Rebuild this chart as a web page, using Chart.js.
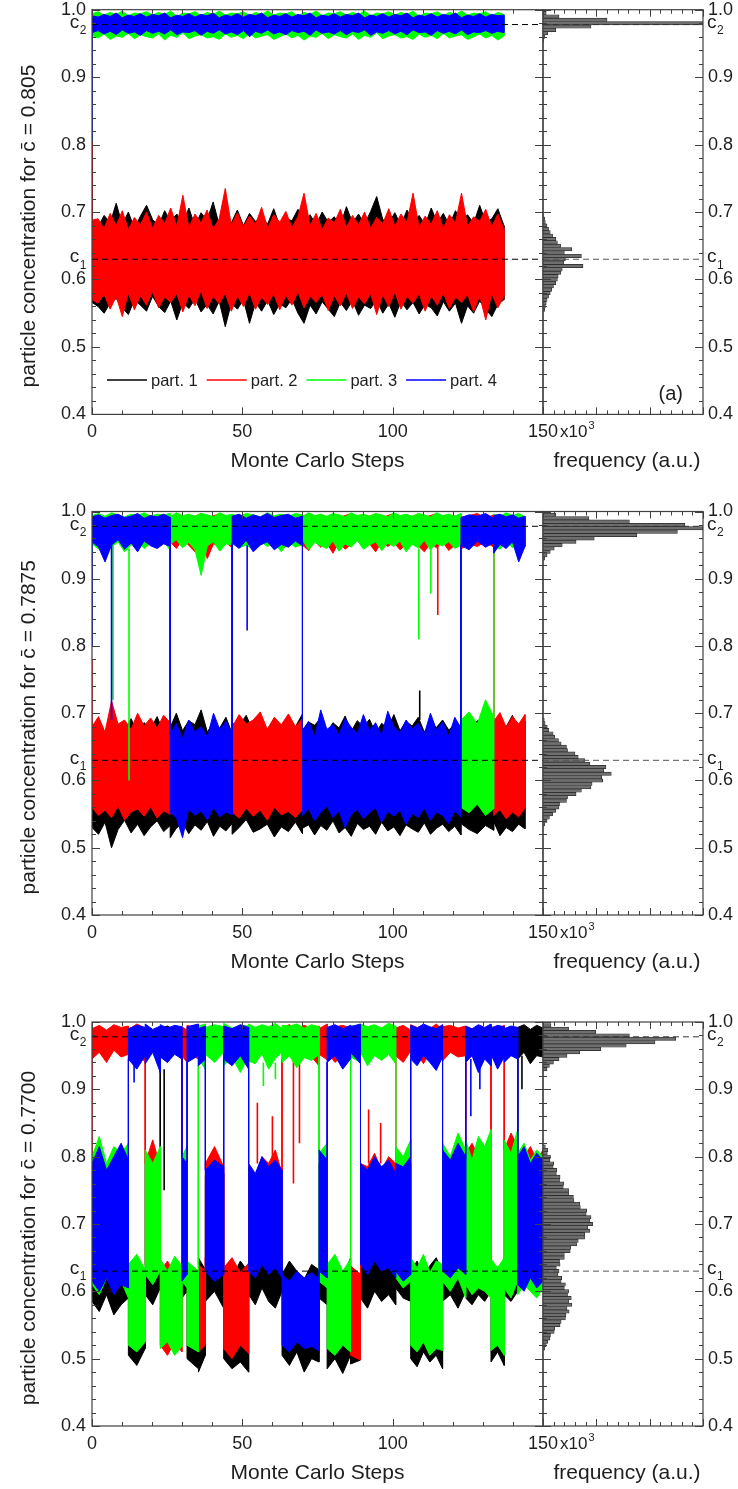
<!DOCTYPE html>
<html><head><meta charset="utf-8">
<script src="https://cdn.jsdelivr.net/npm/chart.js@4.4.1/dist/chart.umd.min.js"></script>
<style>
html,body{margin:0;padding:0;background:#fff;}
#wrap{position:relative;width:738px;height:1489px;overflow:hidden;background:#fff;}
canvas{position:absolute;left:0;}
</style></head><body><div id="wrap"></div>
<script>
// ---------------- data ----------------
const xTicks = [0, 50, 100, 150];
const yTicks = [0.4, 0.5, 0.6, 0.7, 0.8, 0.9, 1.0];
const c1 = 0.63, c2 = 0.978;
const names = ['part. 1', 'part. 2', 'part. 3', 'part. 4'];
const colors = ['#000000', '#ff0000', '#00ff00', '#0000ff'];
const meanConc = ['0.805', '0.7875', '0.7700'];
const panelLabels = ['(a)', '(b)', '(c)'];
const histStep = 0.005;    // histogram bin width

// Time windows (MC steps x10^3) and number of envelope samples read in each window.
// Envelope samples (upper / lower) are in units of 1/1000 concentration.
// panel (a)
const aBounds = [0, 137];
const aCounts = [69];
const aHi1 = [682,678,695,684,713,681,700,676,694,710,689,680,702,686,697,683,706,679,699,688,715,681,692,684,703,680,698,686,693,682,705,679,691,687,704,683,696,681,700,685,693,680,708,684,697,682,701,723,689,684,699,680,703,686,695,681,706,684,698,680,702,687,696,683,710,685,690,705,680];
const aLo1 = [566,560,550,565,572,558,548,570,562,553,575,560,551,568,540,566,557,571,552,563,549,568,530,565,556,570,535,566,553,569,548,564,558,571,550,535,562,549,567,556,545,566,554,569,547,562,557,570,550,564,544,568,555,566,549,563,558,546,567,553,565,535,561,550,568,556,545,563,570];
const aHi2 = [688,690,676,698,680,702,674,692,681,700,676,695,683,706,679,725,677,697,684,703,675,690,735,680,699,678,694,682,707,676,696,685,701,677,693,728,680,698,674,691,684,704,678,695,681,700,676,692,683,705,679,697,685,728,677,694,682,702,676,696,684,728,679,693,686,704,678,697,675];
const aLo2 = [570,565,578,556,575,545,580,555,576,562,582,558,574,566,579,552,577,561,583,557,575,564,580,553,576,560,581,556,574,563,579,555,577,562,582,558,575,566,578,554,576,561,580,557,574,564,579,548,577,560,581,556,575,565,579,553,576,562,580,557,574,566,578,552,576,540,579,558,575];
const aHi3 = [994,997,992,996,993,998,991,995,994,997,992,996,993,998,990,995,994,997,991,996,993,998,992,995,994,997,991,996,993,998,992,995,994,997,990,996,993,998,991,995,994,997,992,996,993,998,991,995,994,997,992,996,993,998,990,995,994,997,991,996,993,998,992,995,994,997,991,996,993];
const aLo3 = [962,958,964,956,961,959,965,957,963,960,958,964,955,962,959,966,957,961,963,958,960,956,964,959,962,957,965,958,961,963,956,960,964,958,962,955,961,959,965,957,963,960,958,964,956,962,959,966,957,961,963,958,960,956,964,959,962,957,965,958,961,963,956,960,964,958,962,955,961];
const aHi4 = [991,989,993,990,995,988,992,990,994,989,993,991,995,988,992,990,994,989,993,991,995,988,992,990,994,989,993,991,995,988,992,990,994,989,993,991,995,988,992,990,994,989,993,991,995,988,992,990,994,989,993,991,995,988,992,990,994,989,993,991,995,988,992,990,994,989,993,991,992];
const aLo4 = [966,969,964,968,963,970,965,967,962,969,965,968,964,970,963,967,966,969,962,968,965,970,964,967,963,969,960,968,965,970,964,967,963,969,966,968,962,970,965,967,964,969,963,968,966,970,962,967,965,969,964,968,963,970,966,967,962,969,965,968,964,970,963,967,966,969,965,968,966];
// vertical excursions [MC step, from, to]
const aSpk1 = [[0,805,682]];
const aSpk2 = [[0,805,570]];
const aSpk3 = [[0,805,962]];
const aSpk4 = [[0,805,966]];

// panel (b)
const bBounds = [0, 26, 46.6, 70, 122.7, 133.6, 144];
const bCounts = [13, 11, 11, 27, 5, 6];
const bHi1 = [676,690,668,698,680,673,692,670,686,677,695,671,684,679,700,674,689,683,705,672,687,678,694,670,685,681,697,673,688,676,692,669,684,680,699,675,687,682,693,671,686,678,696,673,689,680,691,670,685,677,698,674,688,681,694,672,686,679,690,675,684,680,695,673,689,677,692,671,686,680,697,674,688];
const bLo1 = [530,520,538,500,527,541,522,535,518,531,540,524,533,515,529,537,521,534,526,539,517,532,525,536,520,530,542,523,528,535,516,531,524,538,521,529,534,519,533,526,540,522,530,517,536,527,532,520,538,525,531,518,534,528,523,537,520,529,535,524,532,519,536,527,521,533,526,539,518,530,524,535,528];
const bHi2 = [680,695,672,718,684,690,676,700,681,693,678,697,686, 992,996,990,995,993,997,991,994,996,990,995, 679,698,684,690,702,676,694,683,699,680,692, 993,997,990,995,992,996,991,994,997,990,995,993,996,991,994,997,990,995,992,996,991,994,997,990,995,993,996, 991,994,997,990,995, 688,701,679,695,684,698];
const bLo2 = [560,548,556,545,562,541,553,558,547,561,544,555,550, 955,945,958,950,940,956,930,952,948,954,946, 553,544,559,547,556,541,560,549,554,545,557, 950,942,956,947,953,938,955,944,951,957,946,952,940,955,948,954,943,951,956,949,940,953,946,955,942,950,957, 944,952,948,955,947, 548,557,543,553,546,559];
const bHi3 = [994,997,993,998,995,992,996,994,998,993,996,995,997, 992,998,994,996,993,997,995,992,998,994,996, 996,993,997,995,992,998,994,996,993,997,995, 992,998,994,996,993,997,995,992,998,994,996,993,997,995,992,998,994,996,993,997,995,992,998,994,996,993,997, 690,702,684,720,695, 996,993,998,994,997,992];
const bLo3 = [952,944,958,947,955,940,950,957,945,953,948,956,942, 951,958,946,954,943,905,949,955,941,952,950, 957,946,950,944,956,948,953,940,955,947,951, 958,943,954,949,945,956,941,952,947,957,944,950,955,942,953,948,956,940,951,946,957,943,952,949,955,945,950, 560,552,565,548,558, 950,944,956,946,953,948];
const bHi4 = [992,995,990,994,996,991,993,997,990,994,992,996,991, 668,685,662,690,672,680,665,700,676,688,670, 993,996,990,995,992,997,991,994,996,990,993, 672,688,665,705,676,683,668,692,679,670,698,674,686,667,703,680,671,690,677,685,669,700,675,687,666,694,678, 991,995,993,997,990, 994,996,992,995,990,993];
const bLo4 = [955,947,925,950,958,944,953,940,956,949,945,952,948, 552,545,515,558,548,555,541,560,546,553,549, 953,945,957,940,950,955,943,951,947,956,949, 548,558,540,553,562,545,555,530,550,557,543,552,560,538,554,547,556,535,551,545,559,541,553,548,536,555,546, 950,943,956,947,953, 938,951,945,955,925,948];
const bSpk1 = [[109,690,734]];
const bSpk2 = [[0,780,680],[115,950,846]];
const bSpk3 = [[0,800,952],[7,950,720],[12.3,945,600],[108.7,945,810],[112.7,945,878]];
const bSpk4 = [[0,800,955],[6.5,950,690],[51.6,950,823]];

// panel (c)
const cBounds = [0,12.1,17.7,22.7,29.9,31.6,35.4,37.7,43.8,52.1,63.2,75.5,78.2,86,89.3,101,106,116.6,124.3,132.7,137.1,141.6,150];
const cCounts = [6,3,3,4,2,2,2,3,4,6,6,2,4,2,6,3,6,4,5,3,3,5];
const cHi1 = [780,800,770,790,795,775, 630,648,622, 790,775,800, 990,994,988,992, 785,780, 640,625, 650,632, 770,785,775, 635,620,645,628, 780,765,790,775,785,770, 625,645,630,618,640,632, 790,785, 628,642,620,650, 633,625, 780,770,790,775,785,765, 780,775,790, 630,645,622,638,650,627, 795,785,805,790, 805,785,815,800,820, 640,628,645, 810,795,815, 992,996,989,995,991];
const cLo1 = [585,570,595,565,580,590, 505,490,515, 595,580,605, 950,940,955,945, 590,600, 500,485, 480,505, 585,600,575, 500,485,495,480, 595,580,605,585,575,600, 505,490,510,480,500,495, 590,580, 485,500,478,505, 492,498, 590,575,600,585,595,580, 605,590,585, 500,488,510,495,505,485, 585,595,575,600, 590,580,595,585,600, 495,510,490, 595,585,600, 945,955,938,950,948];
const cHi2 = [990,995,988,996,992,994, 989,997,991, 790,825,785, 630,645,625,640, 993,988, 995,990, 640,630, 790,815,785, 635,650,628,642, 785,770,800,790,810,775, 992,996,989,995,991,994, 990,997, 988,993,995,991, 638,625, 790,785,805,780,800,790, 991,995,988, 996,992,994,990,997,989, 993,995,991,994, 805,820,800,815,810, 993,990,995, 810,835,815, 805,800,815,795,810];
const cLo2 = [945,955,940,958,948,952, 944,956,940, 640,615,650, 520,505,525,510, 950,940, 955,945, 510,520, 650,625,640, 515,500,520,508, 660,640,670,650,655,645, 945,955,940,958,948,935, 952,944, 956,940,950,946, 505,498, 655,640,665,650,660,645, 950,940,957, 945,953,938,955,946,950, 942,955,948,950, 640,625,650,635,645, 952,945,950, 640,655,630, 650,645,660,640,655];
const cHi3 = [800,830,790,815,805,820, 640,655,632, 810,790,815, 648,630,652,638, 800,815, 645,630, 994,997, 992,996,993, 998,991,995,994, 997,992,996,993,998,990, 995,994,997,991,996,993, 805,820, 640,655,630,648, 995,992, 997,993,996,991,998,994, 815,800,825, 650,635,655,628,645,640, 820,800,835,810, 825,795,830,815,840, 648,635,650, 825,805,840, 805,820,795,810,800];
const cLo3 = [610,595,620,600,615,590, 520,510,525, 625,610,630, 515,525,505,518, 615,605, 520,510, 945,930, 952,940,955, 935,948,925,950, 942,938,953,930,946,955, 940,950,932,947,943,952, 615,605, 515,505,520,510, 948,940, 955,935,950,943,952,938, 620,605,615, 520,510,525,505,515,512, 615,600,620,590, 610,595,605,600,590, 512,520,505, 605,590,615, 595,610,600,590,605];
const cHi4 = [790,815,780,800,820,795, 990,995,992, 997,989,994, 996,991,995,993, 800,790, 993,997, 990,994, 780,795,785, 994,990,996,992, 790,775,800,785,795,780, 625,615,630,620,628,618, 810,795, 992,996,990,995, 993,997, 790,780,800,785,795,775, 790,785,800, 995,991,997,993,990,996, 810,795,820,800, 994,990,996,992,997, 991,995,993, 990,994,992, 800,815,790,805,795];
const cLo4 = [615,600,620,595,610,605, 945,930,950, 938,955,925, 948,940,952,945, 615,625, 940,950, 935,945, 630,615,625, 945,935,950,930, 630,620,640,625,635,620, 520,510,525,515,518,512, 630,620, 940,950,930,945, 955,938, 640,625,645,630,635,620, 630,615,625, 945,935,950,940,928,948, 630,620,635,625, 940,950,925,945,935, 952,930,948, 940,950,945, 610,600,620,605,615];
const cSpk1 = [[24,930,750],[143,950,900]];
const cSpk2 = [[0,800,945],[55,790,880],[60,790,860],[67,950,760],[69,950,820],[92,790,870],[96,790,850]];
const cSpk3 = [[57,940,905],[61,940,915]];
const cSpk4 = [[14,945,910],[126,945,860],[129,945,900]];

// histograms (frequency, arbitrary units 0-150) starting at the given concentration
const aHistLoStart = 0.555;
const aHistLo = [1.5,2.2,3,3.8,5.2,6.8,8.2,9.8,12,13.5,14.2,16.5,18,37.5,19.5,21,36,20,27,16.5,13.5,12,9,6.8,5.2,3.8,2.2,1.5,0.8];
const aHistHiStart = 0.955;
const aHistHi = [0.8,1.5,4.5,12,45,150,60,15,3];
const bHistLoStart = 0.535;
const bHistLo = [1.5,3.8,6,9,12,15,15.5,22,23,31,36,45,46,56,55,64,57,59,44,39,33,30,23,22,17,14.5,11,9.5,5.5,4,2,1.2];
const bHistHiStart = 0.93;
const bHistHi = [1.5,3.8,6.8,10.5,18,31,48,88,126,150,133,81,43,12];
const cHistLoStart = 0.515;
const cHistLo = [1.5,3,4.5,6.5,7,10.5,11,16,17,21,21.5,24.5,22.5,27,24,26.5,23,24,20,21,17,17.5,14,15,12.5,16,15.5,20,20,25.5,26,31.5,33,39,39,44,42,46.5,44,45,40.5,41,35,34.5,29,28.5,24,24,19,19.5,15.5,16,12.5,13,9.5,10,6.5,7,4,4.5,2.2];
const cHistHiStart = 0.93;
const cHistHi = [3.8,6,9.8,15,22.5,34.5,54,78,105,124.5,81,49.5,24,7.5];

// ---------------- layout ----------------
const FONT = '"Liberation Sans", Arial, Helvetica, sans-serif';
const plotLeft = 92, plotRight = 543, histRight = 703;
const geo = [
  {top: 9.7, bottom: 414.4, legendX: 107, legendY: 383, labelY: 397},
  {top: 511.5, bottom: 915, legendX: 114, legendY: 890, labelY: 888},
  {top: 1022, bottom: 1426, legendX: 114, legendY: 1398, labelY: 1395}
];
const panelData = [
  {bounds: aBounds, counts: aCounts, hi: [aHi1, aHi2, aHi3, aHi4], lo: [aLo1, aLo2, aLo3, aLo4], spk: [aSpk1, aSpk2, aSpk3, aSpk4],
   hist: [[aHistLoStart, aHistLo], [aHistHiStart, aHistHi]]},
  {bounds: bBounds, counts: bCounts, hi: [bHi1, bHi2, bHi3, bHi4], lo: [bLo1, bLo2, bLo3, bLo4], spk: [bSpk1, bSpk2, bSpk3, bSpk4],
   hist: [[bHistLoStart, bHistLo], [bHistHiStart, bHistHi]]},
  {bounds: cBounds, counts: cCounts, hi: [cHi1, cHi2, cHi3, cHi4], lo: [cLo1, cLo2, cLo3, cLo4], spk: [cSpk1, cSpk2, cSpk3, cSpk4],
   hist: [[cHistLoStart, cHistLo], [cHistHiStart, cHistHi]]}
];

function sampleX(bounds, counts) {
  const xs = [];
  counts.forEach((n, w) => {
    const s = bounds[w], e = bounds[w + 1];
    for (let j = 0; j < n; j++) xs.push(n > 1 ? s + j * (e - s) / (n - 1) : s);
  });
  return xs;
}
function buildPoly(hi, lo, xs) {
  const up = hi.map((v, i) => ({x: xs[i], y: v / 1000}));
  const dn = lo.map((v, i) => ({x: xs[i], y: v / 1000})).reverse();
  return up.concat(dn);
}
function buildSpikes(sp) {
  const out = [];
  sp.forEach(s => { out.push({x: s[0], y: s[1] / 1000}, {x: s[0], y: s[2] / 1000}, {x: s[0], y: null}); });
  return out;
}
function buildHist(parts) {
  const out = [];
  parts.forEach(([start, vals]) => vals.forEach((v, k) => out.push({y: +(start + k * histStep).toFixed(4), x: v})));
  return out;
}

function cLabel(ctx, sub, x, y, align) {
  ctx.font = `19px ${FONT}`;
  const wc = ctx.measureText('c').width;
  ctx.font = `12px ${FONT}`;
  const ws = ctx.measureText(sub).width;
  const x0 = align === 'right' ? x - wc - ws : x;
  ctx.textAlign = 'left';
  ctx.textBaseline = 'middle';
  ctx.font = `19px ${FONT}`; ctx.fillText('c', x0, y - 2);
  ctx.font = `12px ${FONT}`; ctx.fillText(sub, x0 + wc + 0.5, y + 6);
}

const deco = {
  id: 'deco',
  afterDraw(chart, args, o) {
    const ctx = chart.ctx, a = chart.chartArea, xs = chart.scales.x, ys = chart.scales.y;
    ctx.save();
    ctx.strokeStyle = '#404040';
    ctx.lineWidth = 1.2;
    ctx.strokeRect(a.left, a.top, a.right - a.left, a.bottom - a.top);
    ctx.lineWidth = 1;
    ctx.beginPath();
    for (let k = 0; k <= 30; k++) {
      const y = Math.round(ys.getPixelForValue(0.4 + k * 0.02)) + 0.5;
      const len = k % 5 === 0 ? 8 : 4;
      ctx.moveTo(a.left, y); ctx.lineTo(a.left + len, y);
      ctx.moveTo(a.right, y); ctx.lineTo(a.right - len, y);
    }
    for (let k = 0; k <= 15; k++) {
      const v = k * 10;
      const x = Math.round(xs.getPixelForValue(v)) + 0.5;
      const len = (v % 50 === 0) ? 7 : 4;
      ctx.moveTo(x, a.bottom); ctx.lineTo(x, a.bottom - len);
      ctx.moveTo(x, a.top); ctx.lineTo(x, a.top + len);
    }
    ctx.stroke();

    ctx.fillStyle = '#1e1e1e';
    ctx.textBaseline = 'middle';
    const p = o.panel, g = geo[p];
    if (o.kind === 'main') {
      ctx.font = `18px ${FONT}`;
      ctx.textAlign = 'right';
      yTicks.forEach(v => ctx.fillText(v.toFixed(1), a.left - 6, ys.getPixelForValue(v)));
      ctx.textAlign = 'center';
      xTicks.forEach(v => ctx.fillText(String(v), xs.getPixelForValue(v), a.bottom + 18));
      const xl = xs.getPixelForValue(xTicks[xTicks.length - 1]);
      ctx.textAlign = 'left';
      ctx.font = `17px ${FONT}`;
      ctx.fillText('x10', xl + 17, a.bottom + 18);
      const w = ctx.measureText('x10').width;
      ctx.font = `11px ${FONT}`;
      ctx.fillText('3', xl + 17 + w + 1, a.bottom + 12);
      ctx.font = `21px ${FONT}`;
      ctx.textAlign = 'center';
      ctx.fillText('Monte Carlo Steps', (a.left + a.right) / 2, a.bottom + 47);
      ctx.save();
      ctx.translate(29, (a.top + a.bottom) / 2 + 14);
      ctx.rotate(-Math.PI / 2);
      ctx.fillText('particle concentration for c\u0304 = ' + meanConc[p], 0, 0);
      ctx.restore();
      ctx.font = `16.5px ${FONT}`;
      ctx.textAlign = 'left';
      names.forEach((n, k) => {
        const sx = g.legendX + k * 99.7;
        ctx.strokeStyle = colors[k];
        ctx.lineWidth = 1.6;
        ctx.beginPath(); ctx.moveTo(sx, g.legendY); ctx.lineTo(sx + 40, g.legendY); ctx.stroke();
        ctx.fillStyle = '#1e1e1e';
        ctx.fillText(n, sx + 44, g.legendY + 1);
      });
      cLabel(ctx, '2', a.left - 6, ys.getPixelForValue(c2), 'right');
      cLabel(ctx, '1', a.left - 6, ys.getPixelForValue(c1), 'right');
    } else {
      ctx.font = `18px ${FONT}`;
      ctx.textAlign = 'left';
      yTicks.forEach(v => ctx.fillText(v.toFixed(1), a.right + 5, ys.getPixelForValue(v)));
      cLabel(ctx, '2', a.right + 4, ys.getPixelForValue(c2), 'left');
      cLabel(ctx, '1', a.right + 4, ys.getPixelForValue(c1), 'left');
      ctx.font = `21px ${FONT}`;
      ctx.textAlign = 'center';
      ctx.fillText('frequency (a.u.)', (a.left + a.right) / 2 + 4, a.bottom + 47);
      ctx.font = `20px ${FONT}`;
      ctx.textAlign = 'right';
      ctx.fillText(panelLabels[p], a.right - 20, g.labelY);
    }
    ctx.restore();
  }
};

const wrap = document.getElementById('wrap');
function makeCanvas(top, h) {
  const c = document.createElement('canvas');
  c.width = 738; c.height = h;
  c.style.top = top + 'px'; c.style.width = '738px'; c.style.height = h + 'px';
  wrap.appendChild(c);
  return c;
}
function dashed(v, xmax) {
  return {type: 'line', indexAxis: 'x', data: [{x: 0, y: v}, {x: xmax, y: v}], borderColor: '#000', borderWidth: 1,
          borderDash: [6, 4], pointRadius: 0, fill: false, order: 0};
}

geo.forEach((g, p) => {
  const cTop = Math.floor(g.top) - 12;
  const cH = Math.ceil(g.bottom) - cTop + 80;
  const padTop = g.top - cTop;
  const padBottom = cH - (g.bottom - cTop);
  const d = panelData[p];
  const xsamp = sampleX(d.bounds, d.counts);

  const ds = [];
  for (let k = 0; k < 4; k++) {
    ds.push({type: 'line', data: buildPoly(d.hi[k], d.lo[k], xsamp), borderColor: colors[k], backgroundColor: colors[k],
             borderWidth: 1, fill: 'shape', pointRadius: 0, tension: 0, order: 10 - k});
    ds.push({type: 'line', data: buildSpikes(d.spk[k]), borderColor: colors[k], borderWidth: 1.6, fill: false,
             pointRadius: 0, tension: 0, spanGaps: false, order: 9.5 - k});
  }
  ds.push(dashed(c1, 150), dashed(c2, 150));
  new Chart(makeCanvas(cTop, cH), {
    type: 'line',
    data: {datasets: ds},
    options: {
      responsive: false, animation: false, devicePixelRatio: 1,
      layout: {padding: {left: plotLeft, right: 738 - plotRight, top: padTop, bottom: padBottom}},
      scales: {
        x: {type: 'linear', min: 0, max: 150, display: false, offset: false},
        y: {type: 'linear', min: 0.4, max: 1.0, display: false, offset: false}
      },
      plugins: {legend: {display: false}, tooltip: {enabled: false}, deco: {kind: 'main', panel: p}}
    },
    plugins: [deco]
  });

  const hds = [
    {type: 'bar', indexAxis: 'y', data: buildHist(d.hist), backgroundColor: '#6f6f6f', borderColor: '#262626',
     borderWidth: 0.7, barPercentage: 1, categoryPercentage: 1, order: 5},
    Object.assign(dashed(c1, 150), {borderColor: '#555'}),
    Object.assign(dashed(c2, 150), {borderColor: '#333'})
  ];
  new Chart(makeCanvas(cTop, cH), {
    type: 'bar',
    data: {datasets: hds},
    options: {
      indexAxis: 'y',
      responsive: false, animation: false, devicePixelRatio: 1,
      layout: {padding: {left: plotRight, right: 738 - histRight, top: padTop, bottom: padBottom}},
      scales: {
        x: {type: 'linear', min: 0, max: 150, display: false, offset: false},
        y: {type: 'linear', min: 0.4, max: 1.0, display: false, offset: false}
      },
      plugins: {legend: {display: false}, tooltip: {enabled: false}, deco: {kind: 'hist', panel: p}}
    },
    plugins: [deco]
  });
});
</script></body></html>
